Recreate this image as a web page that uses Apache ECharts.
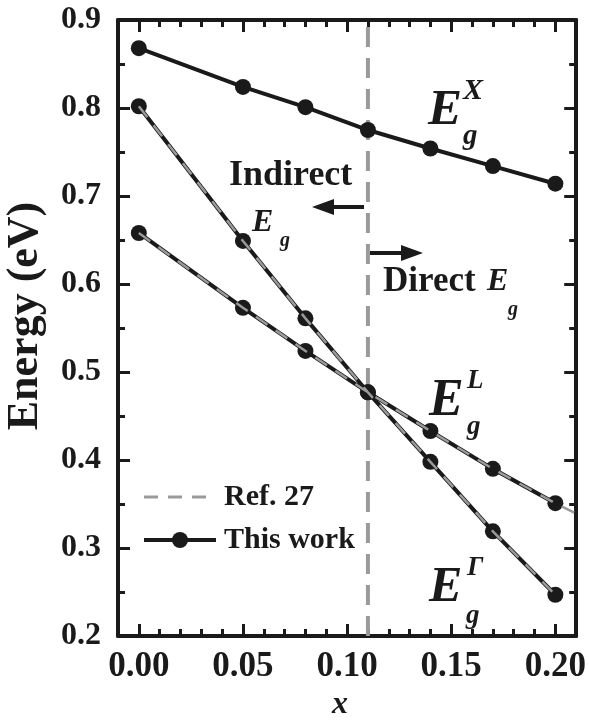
<!DOCTYPE html>
<html>
<head>
<meta charset="utf-8">
<script src="https://cdn.jsdelivr.net/npm/echarts@6.0.0/dist/echarts.min.js"></script>
<style>html,body{margin:0;padding:0;background:#fff;}#main{width:589px;height:726px;}</style>
</head>
<body>
<div id="main"></div>
<script>
// ---- data ----
const xValues = [0.00, 0.05, 0.08, 0.11, 0.14, 0.17, 0.20];
const energyX = [0.868, 0.824, 0.801, 0.775, 0.754, 0.734, 0.714];
const energyL = [0.658, 0.573, 0.524, 0.477, 0.433, 0.390, 0.351];
const energyG = [0.802, 0.649, 0.561, 0.477, 0.398, 0.319, 0.247];
const refLX = [0.00, 0.05, 0.08, 0.11, 0.14, 0.17, 0.20, 0.21];
const refL = [0.658, 0.573, 0.524, 0.477, 0.433, 0.390, 0.351, 0.339];
const refGX = [0.00, 0.05, 0.08, 0.11, 0.14, 0.17, 0.20];
const refG = [0.802, 0.649, 0.561, 0.477, 0.398, 0.319, 0.247];
const boundaryX = [0.11, 0.11];
const boundaryY = [0.2, 0.9];
const xTickValues = [0.00, 0.05, 0.10, 0.15, 0.20];
const legendNames = ['Ref. 27', 'This work'];

const pair = (xs, ys) => xs.map((x, i) => [x, ys[i]]);
const FONT = "'Liberation Serif', 'Times New Roman', serif";
const BLACK = '#1a1a1a';
const GRAY = '#9a9a9a';

const chart = echarts.init(document.getElementById('main'), null, {renderer: 'canvas'});

const xCommon = {type: 'value', min: -0.01, max: 0.21, splitLine: {show: false}};
const minorX = (pos, showLabel) => Object.assign({}, xCommon, {
  position: pos, interval: 0.01,
  axisLine: {show: true, onZero: false, lineStyle: {color: BLACK, width: 4}},
  axisTick: {show: true, inside: true, length: 7, lineStyle: {color: BLACK, width: 3}},
  axisLabel: showLabel ? {
    show: true, customValues: xTickValues, formatter: v => v.toFixed(2),
    fontSize: 35, fontWeight: 'bold', fontFamily: FONT, color: BLACK, margin: 13
  } : {show: false}
});
const majorX = (pos) => Object.assign({}, xCommon, {
  position: pos, interval: 0.01,
  axisLine: {show: false, onZero: false},
  axisTick: {show: true, inside: true, length: 12, customValues: xTickValues, lineStyle: {color: BLACK, width: 3}},
  axisLabel: {show: false}
});
const yAx = (pos, showLabel) => ({
  type: 'value', position: pos, min: 0.2, max: 0.9, interval: 0.1,
  axisLine: {show: true, onZero: false, lineStyle: {color: BLACK, width: 4}},
  axisTick: {show: true, inside: true, length: 12, lineStyle: {color: BLACK, width: 3}},
  minorTick: {show: true, splitNumber: 2, length: 7, lineStyle: {color: BLACK, width: 3}},
  splitLine: {show: false}, minorSplitLine: {show: false},
  axisLabel: showLabel ? {show: true, formatter: v => v.toFixed(1), fontSize: 32, fontWeight: 'bold',
    fontFamily: FONT, color: BLACK, margin: 17} : {show: false}
});

const xAxis0 = minorX('bottom', true);
xAxis0.name = 'x';
xAxis0.nameLocation = 'middle';
xAxis0.nameGap = 46;
xAxis0.nameTextStyle = {fontSize: 32, fontStyle: 'italic', fontWeight: 'bold', fontFamily: FONT, color: BLACK, padding: [0, 14, 0, 0]};

const workSeries = (ys) => ({
  name: 'This work', type: 'line', xAxisIndex: 0, yAxisIndex: 0,
  data: pair(xValues, ys), symbol: 'circle', symbolSize: 16, showSymbol: true,
  lineStyle: {color: BLACK, width: 4}, itemStyle: {color: BLACK}, z: 3, animation: false
});
const refSeries = (xs, ys) => ({
  name: 'Ref. 27', type: 'line', xAxisIndex: 0, yAxisIndex: 0,
  data: pair(xs, ys), symbol: 'none', showSymbol: false,
  lineStyle: {color: GRAY, width: 2.5, type: [14, 10]}, itemStyle: {color: GRAY}, z: 5, animation: false
});

const E = (x, y, fs, txt, style) => ({
  type: 'text', x: x, y: y, z: 100,
  style: Object.assign({text: txt, fontSize: fs, fontFamily: FONT, fontWeight: 'bold', fontStyle: 'italic',
    fill: BLACK, align: 'left', verticalAlign: 'middle'}, style || {})
});

const option = {
  backgroundColor: '#fff',
  animation: false,
  grid: {left: 118, right: 12, top: 20, bottom: 79, containLabel: false},
  xAxis: [xAxis0, majorX('bottom'), minorX('top', false), majorX('top')],
  yAxis: [yAx('left', true), yAx('right', false)],
  legend: {
    data: [
      {name: legendNames[0], itemStyle: {opacity: 0}, lineStyle: {width: 3, color: GRAY, type: [14, 10]}},
      {name: legendNames[1], lineStyle: {width: 4, color: BLACK}}
    ],
    orient: 'vertical', left: 142, top: 482, padding: 0,
    itemWidth: 72, itemHeight: 20, itemGap: 13,
    textStyle: {fontSize: 30, fontWeight: 'bold', fontFamily: FONT, color: BLACK, lineHeight: 30, padding: [0, 0, 0, 3]},
    selectedMode: false
  },
  series: [
    {
      name: 'boundary', type: 'line', xAxisIndex: 0, yAxisIndex: 0, z: 1, silent: true,
      data: pair(boundaryX, boundaryY), symbol: 'none', showSymbol: false,
      lineStyle: {color: GRAY, width: 4, type: [20, 11]}, itemStyle: {color: GRAY}, animation: false
    },
    workSeries(energyX),
    workSeries(energyL),
    workSeries(energyG),
    refSeries(refLX, refL),
    refSeries(refGX, refG)
  ],
  graphic: [
    {type: 'text', x: 26, y: 316, rotation: Math.PI / 2, z: 100,
      style: {text: 'Energy (eV)', fontSize: 44, fontFamily: FONT, fontWeight: 'bold', fill: BLACK, align: 'center', verticalAlign: 'middle'}},
    E(229, 176, 36, 'Indirect', {fontStyle: 'normal'}),
    E(252, 223, 32, 'E'),
    E(280, 241, 20, 'g'),
    E(383, 282, 35, 'Direct', {fontStyle: 'normal'}),
    E(487, 282, 32, 'E'),
    E(508, 310, 20, 'g'),
    // E_g^X
    E(428, 111, 51, 'E'),
    E(463, 91, 30, 'X'),
    E(463, 137, 29, 'g'),
    // E_g^L
    E(429, 402, 52, 'E'),
    E(467, 381, 27, 'L'),
    E(467, 427, 27, 'g'),
    // E_g^Gamma
    E(429, 588, 50, 'E'),
    E(467, 568, 27, 'Γ'),
    E(466, 616, 27, 'g'),
    // arrows
    {type: 'polygon', z: 100, shape: {points: [[312, 207], [334, 199], [334, 205], [364, 205], [364, 209], [334, 209], [334, 215]]}, style: {fill: BLACK}},
    {type: 'polygon', z: 100, shape: {points: [[423, 253], [401, 245], [401, 251], [370, 251], [370, 255], [401, 255], [401, 261]]}, style: {fill: BLACK}}
  ]
};
chart.setOption(option);
</script>
</body>
</html>
